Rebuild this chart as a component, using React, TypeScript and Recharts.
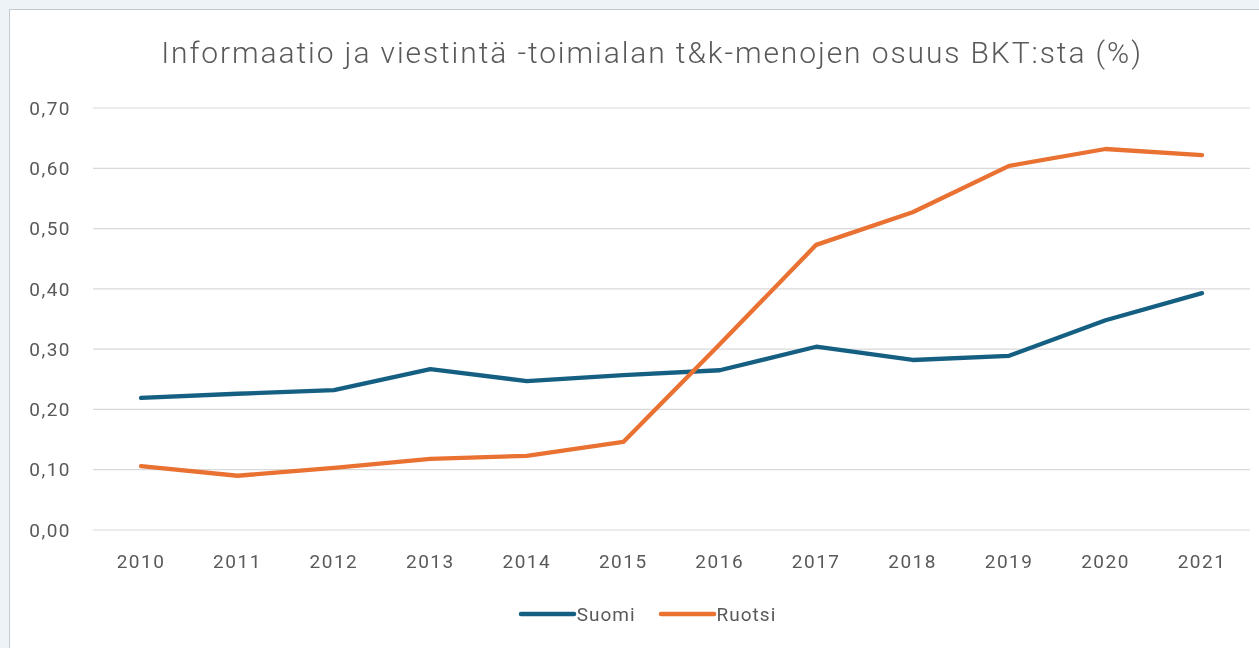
import React from "react"
import { LineChart, Line, XAxis, YAxis, CartesianGrid } from "recharts"

const years = ["2010", "2011", "2012", "2013", "2014", "2015", "2016", "2017", "2018", "2019", "2020", "2021"]
const suomi = [0.219, 0.226, 0.232, 0.267, 0.247, 0.257, 0.265, 0.304, 0.282, 0.289, 0.348, 0.393]
const ruotsi = [0.106, 0.09, 0.103, 0.118, 0.123, 0.146, 0.308, 0.473, 0.527, 0.604, 0.632, 0.622]
const yTicks = [0, 0.1, 0.2, 0.3, 0.4, 0.5, 0.6, 0.7]

const seriesNames = ["Suomi", "Ruotsi"]
const seriesColors = ["#156082", "#e97132"]

const data = years.map((year, i) => ({ year, Suomi: suomi[i], Ruotsi: ruotsi[i] }))

const FONT = "Roboto, 'Noto Sans', sans-serif"
const GRAY = "#595959"

const LegendRow = () => (
  <div
    style={{
      position: "absolute",
      left: 0,
      top: 592,
      width: 1274,
      height: 24,
      display: "flex",
      justifyContent: "center",
      alignItems: "center",
      gap: 22,
      fontFamily: FONT,
      fontSize: 19,
      letterSpacing: 1,
      color: GRAY,
    }}
  >
    {seriesNames.map((name, i) => (
      <div key={name} style={{ display: "flex", alignItems: "center" }}>
        <svg width={59} height={8}>
          <line x1={3} y1={4} x2={56} y2={4} stroke={seriesColors[i]} strokeWidth={4.5} strokeLinecap="round" />
        </svg>
        <span>{name}</span>
      </div>
    ))}
  </div>
)

const tickStyle = { fill: GRAY, fontSize: 19, fontFamily: FONT, letterSpacing: 1.5 }

export default function App() {
  return (
    <div style={{ position: "fixed", inset: 0, background: "#eef3f8" }}>
      <div
        style={{
          position: "absolute",
          left: 9,
          top: 9,
          width: 1260,
          height: 650,
          background: "#ffffff",
          border: "1px solid #c4c9ce",
        }}
      >
        <div
          style={{
            position: "absolute",
            left: 0,
            top: 28,
            width: 1284,
            textAlign: "center",
            fontFamily: FONT,
            fontSize: 30,
            fontWeight: 300,
            letterSpacing: 1.9,
            lineHeight: "30px",
            color: GRAY,
          }}
        >
          Informaatio ja viestintä -toimialan t&amp;k-menojen osuus BKT:sta (%)
        </div>
        <LineChart width={1249} height={638} data={data} margin={{ top: 98, right: 9, left: 0, bottom: 82 }}>
          <CartesianGrid vertical={false} stroke="#d9d9d9" strokeWidth={1.2} />
          <XAxis
            dataKey="year"
            padding={{ left: 48, right: 48 }}
            axisLine={false}
            tickLine={false}
            tickSize={0}
            tickMargin={25}
            height={36}
            tick={tickStyle}
          />
          <YAxis
            domain={[0, 0.7]}
            ticks={yTicks}
            width={83}
            axisLine={false}
            tickLine={false}
            tickSize={0}
            tickMargin={22}
            tickFormatter={(v: number) => v.toFixed(2).replace(".", ",")}
            tick={tickStyle}
          />
          {seriesNames.map((name, i) => (
            <Line
              key={name}
              dataKey={name}
              stroke={seriesColors[i]}
              strokeWidth={4.3}
              dot={false}
              isAnimationActive={false}
              strokeLinecap="round"
              strokeLinejoin="round"
            />
          ))}
        </LineChart>
        <LegendRow />
      </div>
    </div>
  )
}
